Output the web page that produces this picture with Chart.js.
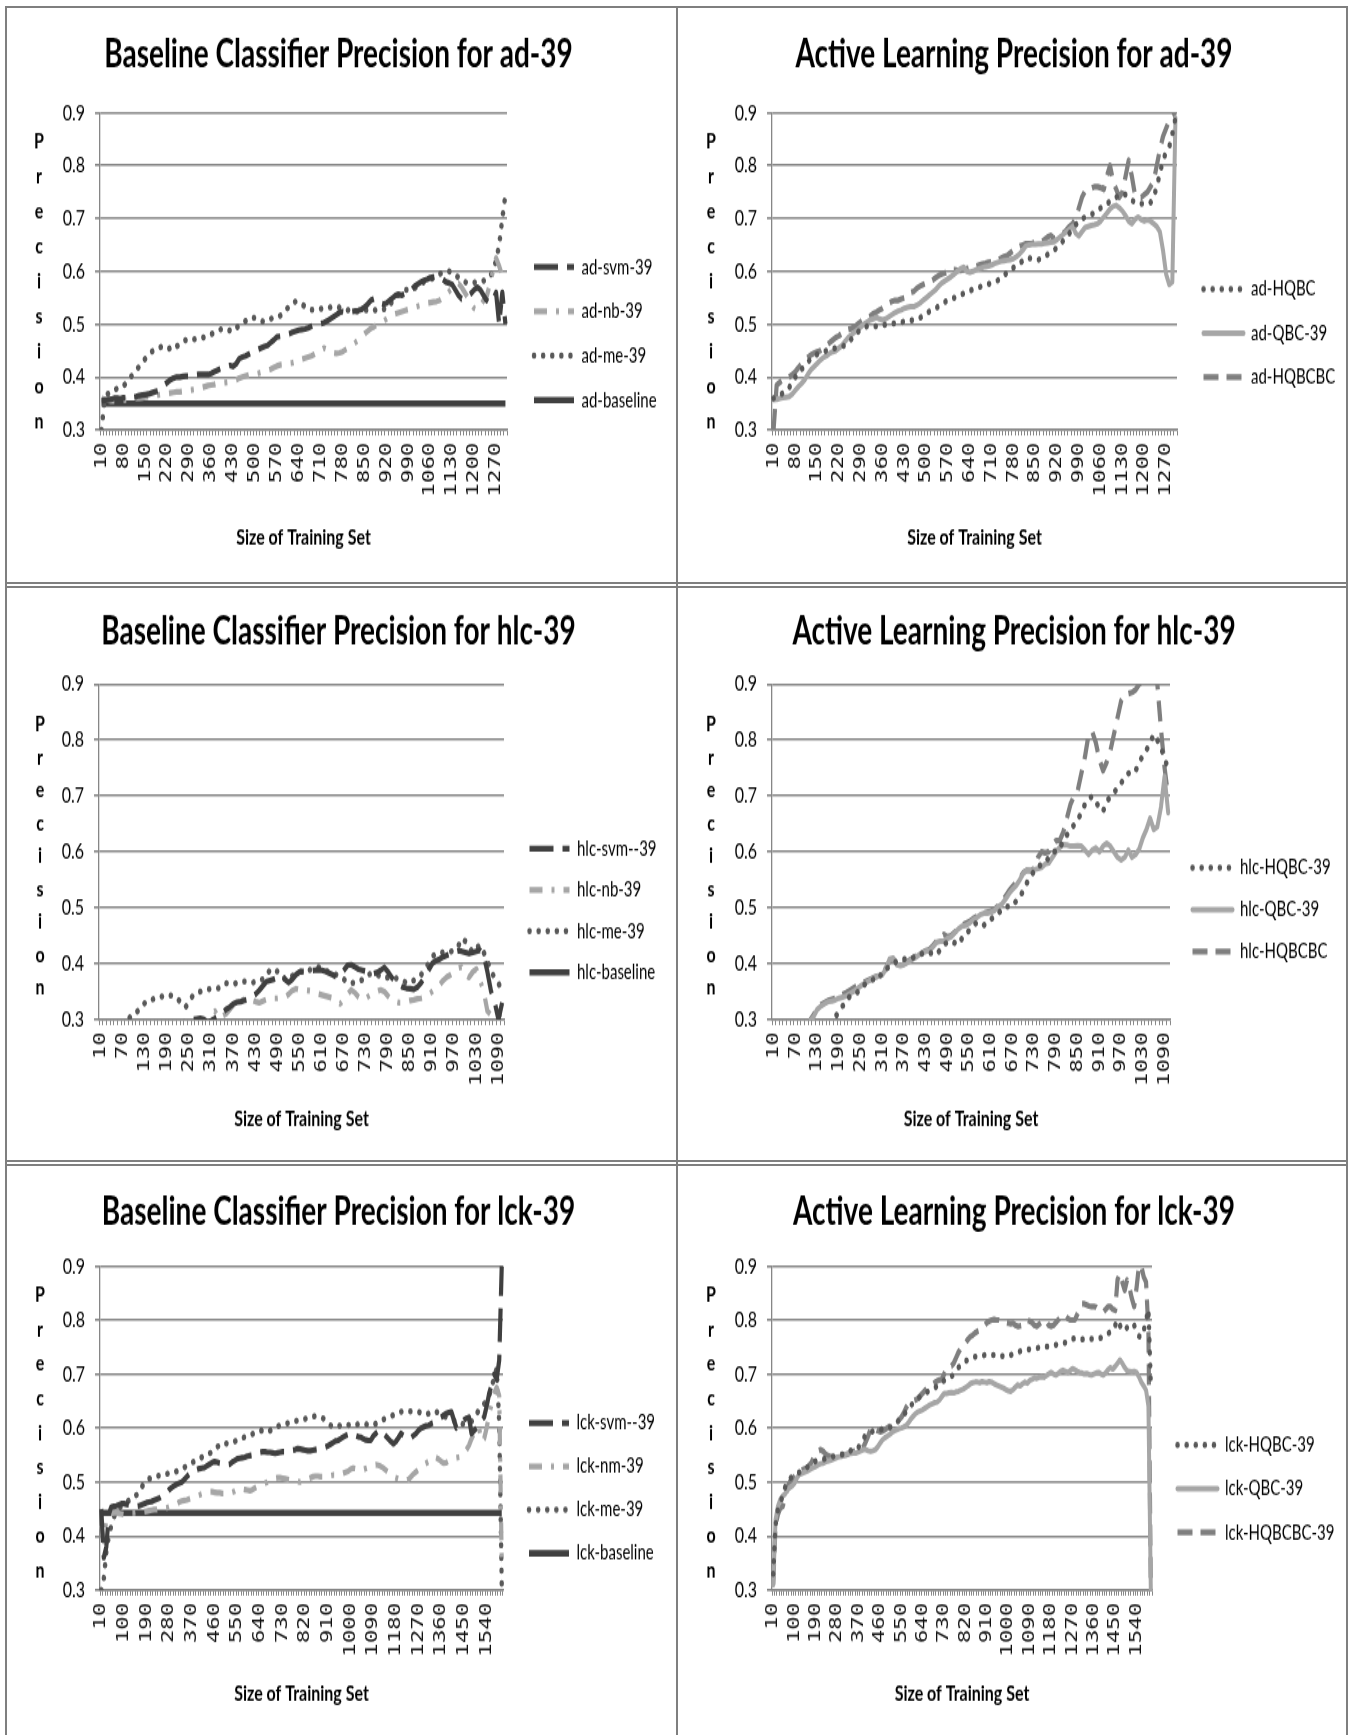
<!DOCTYPE html>
<html>
<head>
<meta charset="utf-8">
<title>Baseline vs Active Learning Precision</title>
<script src="https://cdn.jsdelivr.net/npm/chart.js@4.4.0/dist/chart.umd.min.js"></script>
<style>
    html, body { margin: 0; padding: 0; background: #fff; }
    #page { position: relative; width: 1351px; height: 1735px; overflow: hidden; background: #fff; }
    /* the source image is stretched vertically, so every panel is drawn flat and scaled */
    .cell { position: absolute; transform-origin: 0 0; transform: scaleY(1.4); }
    .cell canvas { display: block; }
    .rule { position: absolute; background: #7f7f7f; z-index: 2; }
</style>
</head>
<body>
<div id="page">
    <div class="cell" style="left:0;top:7px"><canvas id="adBase" width="677" height="411"></canvas></div>
    <div class="cell" style="left:677px;top:7px"><canvas id="adActive" width="674" height="411"></canvas></div>
    <div class="cell" style="left:0;top:587px"><canvas id="hlcBase" width="677" height="410"></canvas></div>
    <div class="cell" style="left:677px;top:587px"><canvas id="hlcActive" width="674" height="410"></canvas></div>
    <div class="cell" style="left:0;top:1166px"><canvas id="lckBase" width="677" height="407"></canvas></div>
    <div class="cell" style="left:677px;top:1166px"><canvas id="lckActive" width="674" height="407"></canvas></div>

    <div class="rule" style="left:5px;top:6px;width:1343px;height:2px"></div>
    <div class="rule" style="left:5px;top:582px;width:1343px;height:2px"></div>
    <div class="rule" style="left:5px;top:586px;width:1343px;height:2px"></div>
    <div class="rule" style="left:5px;top:1160px;width:1343px;height:2px"></div>
    <div class="rule" style="left:5px;top:1164px;width:1343px;height:2px"></div>
    <div class="rule" style="left:5px;top:6px;width:2px;height:1729px"></div>
    <div class="rule" style="left:676px;top:6px;width:2px;height:1729px"></div>
    <div class="rule" style="left:1346px;top:6px;width:2px;height:1729px"></div>
</div>
<script>
// training set sizes (categories), 10 apart
const adSizes = Array.from({ length: 130 }, (_, i) => 10 + i * 10);
const hlcSizes = Array.from({ length: 110 }, (_, i) => 10 + i * 10);
const lckSizes = Array.from({ length: 160 }, (_, i) => 10 + i * 10);

// only every n-th size is labelled on the x axis
const adLabelEvery = 7;
const hlcLabelEvery = 6;
const lckLabelEvery = 9;

const yTicks = [0.3, 0.4, 0.5, 0.6, 0.7, 0.8, 0.9];

// ---- ad-39 ----
const adSvm39 = [
    0.355,0.356,0.357,0.358,0.36,0.36,0.359,0.361,0.36,0.362,
    0.362,0.363,0.365,0.366,0.367,0.368,0.37,0.372,0.374,0.378,
    0.385,0.39,0.395,0.398,0.40,0.40,0.401,0.402,0.402,0.403,
    0.404,0.405,0.405,0.405,0.405,0.407,0.41,0.413,0.416,0.418,
    0.42,0.422,0.42,0.425,0.435,0.438,0.44,0.443,0.447,0.45,
    0.452,0.455,0.458,0.46,0.465,0.47,0.476,0.477,0.478,0.48,
    0.482,0.485,0.487,0.489,0.49,0.491,0.493,0.496,0.499,0.50,
    0.501,0.503,0.506,0.51,0.514,0.518,0.522,0.524,0.523,0.523,
    0.524,0.525,0.526,0.528,0.532,0.538,0.545,0.548,0.545,0.54,
    0.538,0.54,0.545,0.55,0.555,0.556,0.555,0.558,0.56,0.565,
    0.572,0.576,0.58,0.583,0.585,0.588,0.589,0.59,0.588,0.585,
    0.58,0.578,0.575,0.565,0.555,0.548,0.55,0.553,0.558,0.565,
    0.57,0.565,0.555,0.545,0.54,0.545,0.56,0.50,0.56,0.50
];
const adNb39 = [
    0.36,0.358,0.356,0.355,0.355,0.355,0.356,0.357,0.357,0.358,
    0.358,0.36,0.36,0.361,0.362,0.363,0.364,0.365,0.366,0.367,
    0.368,0.369,0.37,0.371,0.372,0.372,0.373,0.374,0.375,0.376,
    0.377,0.378,0.38,0.382,0.384,0.385,0.386,0.388,0.388,0.389,
    0.39,0.391,0.393,0.395,0.398,0.40,0.402,0.404,0.404,0.405,
    0.407,0.409,0.411,0.413,0.415,0.418,0.421,0.423,0.424,0.425,
    0.426,0.427,0.429,0.431,0.434,0.436,0.438,0.44,0.443,0.447,
    0.451,0.455,0.452,0.449,0.446,0.445,0.446,0.448,0.452,0.456,
    0.46,0.465,0.47,0.476,0.482,0.487,0.492,0.495,0.499,0.502,
    0.506,0.51,0.515,0.518,0.52,0.522,0.524,0.526,0.528,0.53,
    0.532,0.534,0.536,0.538,0.54,0.541,0.542,0.543,0.545,0.55,
    0.556,0.562,0.568,0.574,0.577,0.57,0.56,0.55,0.538,0.53,
    0.527,0.535,0.545,0.552,0.575,0.6,0.625,0.61,0.59,0.58
];
const adMe39 = [
    0.30,0.36,0.368,0.372,0.376,0.378,0.381,0.383,0.39,0.398,
    0.405,0.412,0.42,0.428,0.435,0.442,0.448,0.452,0.455,0.457,
    0.455,0.452,0.455,0.452,0.458,0.463,0.468,0.47,0.469,0.471,
    0.472,0.473,0.474,0.476,0.478,0.481,0.484,0.487,0.49,0.492,
    0.49,0.488,0.486,0.493,0.497,0.502,0.506,0.51,0.513,0.512,
    0.508,0.506,0.505,0.507,0.51,0.513,0.514,0.516,0.52,0.527,
    0.535,0.54,0.543,0.542,0.538,0.533,0.529,0.527,0.527,0.528,
    0.529,0.53,0.531,0.532,0.533,0.533,0.532,0.53,0.528,0.526,
    0.525,0.524,0.524,0.525,0.526,0.527,0.527,0.526,0.528,0.53,
    0.529,0.528,0.535,0.545,0.552,0.558,0.562,0.565,0.565,0.566,
    0.568,0.572,0.576,0.58,0.582,0.584,0.588,0.592,0.595,0.598,
    0.60,0.60,0.598,0.594,0.588,0.584,0.58,0.578,0.578,0.579,
    0.58,0.581,0.582,0.584,0.59,0.60,0.62,0.65,0.70,0.745
];
const adBaselineValue = 0.35;
const adBaseline = adSizes.map(() => adBaselineValue);

const adHqbc = [
    0.36,0.362,0.365,0.37,0.375,0.38,0.39,0.40,0.41,0.415,
    0.42,0.428,0.435,0.44,0.443,0.445,0.448,0.45,0.452,0.454,
    0.455,0.456,0.458,0.46,0.465,0.472,0.478,0.485,0.49,0.494,
    0.496,0.497,0.497,0.496,0.497,0.498,0.499,0.50,0.501,0.502,
    0.503,0.504,0.505,0.506,0.507,0.508,0.51,0.512,0.516,0.52,
    0.524,0.527,0.53,0.534,0.538,0.542,0.546,0.548,0.55,0.552,
    0.555,0.558,0.56,0.563,0.566,0.568,0.57,0.572,0.574,0.576,
    0.578,0.58,0.583,0.587,0.592,0.598,0.603,0.607,0.61,0.615,
    0.62,0.625,0.625,0.624,0.622,0.622,0.624,0.628,0.632,0.635,
    0.64,0.645,0.65,0.658,0.665,0.672,0.68,0.688,0.695,0.70,
    0.702,0.705,0.708,0.71,0.715,0.72,0.725,0.728,0.732,0.736,
    0.74,0.745,0.747,0.745,0.74,0.735,0.73,0.728,0.728,0.728,
    0.728,0.73,0.74,0.76,0.785,0.81,0.825,0.835,0.86,0.89
];
const adQbc39 = [
    0.357,0.358,0.36,0.361,0.362,0.363,0.368,0.375,0.382,0.388,
    0.395,0.405,0.414,0.42,0.426,0.432,0.437,0.44,0.445,0.448,
    0.45,0.455,0.46,0.468,0.475,0.48,0.485,0.49,0.495,0.50,
    0.504,0.508,0.51,0.513,0.51,0.508,0.51,0.514,0.518,0.522,
    0.525,0.527,0.53,0.532,0.533,0.533,0.536,0.54,0.545,0.55,
    0.555,0.56,0.565,0.572,0.578,0.582,0.586,0.59,0.595,0.60,
    0.605,0.608,0.60,0.598,0.60,0.603,0.605,0.607,0.609,0.61,
    0.612,0.615,0.617,0.619,0.62,0.621,0.622,0.624,0.628,0.633,
    0.64,0.648,0.65,0.651,0.651,0.652,0.652,0.653,0.654,0.655,
    0.656,0.66,0.665,0.67,0.675,0.68,0.685,0.672,0.667,0.675,
    0.683,0.685,0.687,0.688,0.69,0.695,0.703,0.71,0.718,0.723,
    0.725,0.72,0.714,0.705,0.695,0.69,0.698,0.703,0.698,0.695,
    0.697,0.695,0.69,0.685,0.675,0.64,0.595,0.575,0.58,0.89
];
const adHqbcbc = [
    0.30,0.385,0.39,0.395,0.398,0.40,0.405,0.41,0.418,0.425,
    0.432,0.437,0.442,0.445,0.448,0.45,0.455,0.46,0.465,0.47,
    0.475,0.478,0.483,0.488,0.49,0.492,0.495,0.50,0.505,0.51,
    0.512,0.515,0.52,0.523,0.527,0.53,0.535,0.54,0.543,0.545,
    0.545,0.548,0.55,0.555,0.56,0.562,0.568,0.572,0.575,0.578,
    0.58,0.583,0.588,0.592,0.595,0.597,0.60,0.603,0.603,0.602,
    0.602,0.603,0.605,0.607,0.609,0.61,0.612,0.614,0.615,0.617,
    0.618,0.62,0.622,0.625,0.628,0.63,0.635,0.64,0.645,0.648,
    0.65,0.652,0.652,0.653,0.655,0.655,0.656,0.66,0.665,0.668,
    0.662,0.665,0.668,0.672,0.678,0.685,0.69,0.70,0.72,0.74,
    0.752,0.755,0.757,0.76,0.76,0.758,0.755,0.78,0.80,0.77,
    0.755,0.74,0.75,0.78,0.81,0.78,0.745,0.74,0.74,0.745,
    0.75,0.76,0.77,0.80,0.83,0.855,0.87,0.885,0.895,0.90
];

// ---- hlc-39 ----
const hlcSvm39 = [
    0.22,0.225,0.23,0.235,0.24,0.245,0.25,0.255,0.26,0.262,
    0.265,0.268,0.27,0.272,0.275,0.278,0.28,0.282,0.285,0.287,
    0.289,0.291,0.293,0.296,0.298,0.30,0.301,0.302,0.30,0.295,
    0.298,0.302,0.306,0.312,0.318,0.322,0.328,0.331,0.332,0.334,
    0.336,0.34,0.345,0.352,0.36,0.368,0.37,0.372,0.375,0.378,
    0.372,0.366,0.372,0.38,0.385,0.386,0.386,0.387,0.388,0.389,
    0.388,0.386,0.383,0.38,0.376,0.38,0.388,0.397,0.398,0.394,
    0.39,0.388,0.386,0.384,0.382,0.384,0.388,0.393,0.385,0.375,
    0.368,0.362,0.358,0.356,0.355,0.354,0.358,0.366,0.376,0.388,
    0.40,0.405,0.408,0.412,0.415,0.418,0.421,0.423,0.422,0.42,
    0.418,0.42,0.422,0.424,0.415,0.385,0.35,0.33,0.30,0.33
];
const hlcNb39 = [
    0.2,0.205,0.21,0.215,0.22,0.225,0.23,0.235,0.24,0.245,
    0.25,0.253,0.256,0.259,0.262,0.265,0.268,0.271,0.274,0.277,
    0.28,0.282,0.284,0.286,0.288,0.29,0.292,0.294,0.296,0.298,
    0.31,0.315,0.302,0.306,0.31,0.318,0.326,0.33,0.333,0.336,
    0.338,0.335,0.332,0.33,0.333,0.336,0.338,0.338,0.338,0.339,
    0.34,0.345,0.352,0.355,0.353,0.353,0.352,0.351,0.348,0.346,
    0.344,0.342,0.34,0.338,0.333,0.328,0.336,0.345,0.353,0.348,
    0.34,0.335,0.338,0.343,0.347,0.35,0.353,0.35,0.342,0.335,
    0.332,0.33,0.33,0.332,0.334,0.335,0.337,0.338,0.34,0.345,
    0.35,0.356,0.362,0.37,0.376,0.38,0.385,0.392,0.394,0.38,
    0.375,0.385,0.39,0.37,0.35,0.315,0.308,0.308,0.31,0.31
];
const hlcMe39 = [
    0.25,0.255,0.26,0.265,0.27,0.275,0.285,0.295,0.305,0.308,
    0.315,0.322,0.33,0.335,0.336,0.338,0.34,0.342,0.344,0.343,
    0.342,0.336,0.328,0.322,0.332,0.343,0.347,0.35,0.352,0.354,
    0.355,0.355,0.356,0.36,0.365,0.364,0.363,0.366,0.368,0.368,
    0.368,0.366,0.367,0.368,0.372,0.378,0.39,0.388,0.386,0.383,
    0.372,0.372,0.378,0.382,0.385,0.386,0.388,0.389,0.391,0.394,
    0.39,0.387,0.385,0.383,0.38,0.376,0.372,0.366,0.365,0.366,
    0.368,0.371,0.378,0.381,0.382,0.38,0.377,0.374,0.375,0.376,
    0.374,0.372,0.37,0.365,0.367,0.37,0.375,0.38,0.39,0.40,
    0.412,0.418,0.419,0.42,0.42,0.421,0.425,0.43,0.445,0.44,
    0.43,0.42,0.428,0.433,0.42,0.405,0.385,0.375,0.365,0.35
];
const hlcBaselineValue = 0.28;
const hlcBaseline = hlcSizes.map(() => hlcBaselineValue);

const hlcHqbc39 = [
    0.18,0.19,0.2,0.21,0.22,0.23,0.24,0.245,0.25,0.255,
    0.26,0.265,0.27,0.275,0.28,0.29,0.298,0.304,0.315,0.324,
    0.33,0.342,0.345,0.348,0.355,0.362,0.367,0.371,0.372,0.372,
    0.386,0.39,0.395,0.40,0.404,0.406,0.408,0.407,0.408,0.413,
    0.415,0.418,0.419,0.419,0.418,0.416,0.425,0.434,0.438,0.44,
    0.437,0.434,0.445,0.449,0.46,0.467,0.473,0.47,0.468,0.475,
    0.479,0.485,0.49,0.496,0.502,0.502,0.503,0.512,0.518,0.532,
    0.545,0.556,0.566,0.574,0.577,0.58,0.59,0.598,0.602,0.604,
    0.621,0.63,0.64,0.648,0.657,0.67,0.685,0.695,0.699,0.69,
    0.678,0.672,0.69,0.698,0.705,0.715,0.723,0.733,0.74,0.746,
    0.745,0.76,0.772,0.782,0.795,0.81,0.80,0.785,0.77,0.745
];
const hlcQbc39 = [
    0.2,0.21,0.22,0.23,0.24,0.25,0.26,0.27,0.28,0.29,
    0.297,0.305,0.318,0.324,0.328,0.332,0.333,0.335,0.338,0.34,
    0.342,0.346,0.35,0.355,0.36,0.364,0.368,0.372,0.375,0.378,
    0.38,0.39,0.408,0.41,0.398,0.396,0.398,0.402,0.407,0.41,
    0.415,0.42,0.422,0.423,0.43,0.438,0.44,0.44,0.445,0.448,
    0.455,0.462,0.467,0.468,0.472,0.478,0.482,0.487,0.49,0.49,
    0.492,0.495,0.502,0.506,0.515,0.525,0.533,0.54,0.55,0.562,
    0.567,0.566,0.568,0.57,0.572,0.578,0.58,0.59,0.60,0.608,
    0.613,0.612,0.61,0.61,0.611,0.61,0.603,0.595,0.603,0.607,
    0.60,0.61,0.615,0.61,0.60,0.59,0.585,0.59,0.603,0.59,
    0.595,0.605,0.625,0.64,0.66,0.64,0.645,0.68,0.735,0.67
];
const hlcHqbcbc = [
    0.2,0.21,0.22,0.23,0.24,0.25,0.26,0.27,0.28,0.29,
    0.298,0.308,0.32,0.326,0.33,0.334,0.336,0.338,0.342,0.345,
    0.348,0.352,0.356,0.36,0.365,0.367,0.37,0.373,0.376,0.378,
    0.382,0.392,0.405,0.408,0.40,0.398,0.40,0.404,0.408,0.412,
    0.416,0.42,0.423,0.425,0.432,0.44,0.445,0.452,0.448,0.45,
    0.456,0.463,0.468,0.472,0.475,0.48,0.484,0.488,0.49,0.492,
    0.494,0.497,0.503,0.51,0.52,0.53,0.538,0.545,0.553,0.563,
    0.567,0.566,0.57,0.59,0.60,0.598,0.60,0.612,0.62,0.62,
    0.635,0.66,0.685,0.70,0.71,0.74,0.77,0.81,0.815,0.795,
    0.765,0.745,0.76,0.78,0.81,0.84,0.87,0.88,0.883,0.885,
    0.89,0.90,0.905,0.91,0.91,0.91,0.90,0.82,0.75,0.70
];

// ---- lck-39 ----
const lckSvm39 = [
    0.45,0.36,0.38,0.44,0.454,0.455,0.456,0.458,0.46,0.46,
    0.459,0.458,0.456,0.455,0.455,0.456,0.458,0.46,0.462,0.463,
    0.464,0.466,0.468,0.47,0.474,0.478,0.48,0.486,0.49,0.493,
    0.496,0.498,0.50,0.505,0.51,0.515,0.52,0.521,0.523,0.525,
    0.526,0.527,0.53,0.533,0.536,0.538,0.537,0.535,0.534,0.533,
    0.532,0.533,0.537,0.54,0.543,0.544,0.545,0.546,0.548,0.549,
    0.55,0.552,0.554,0.555,0.556,0.556,0.555,0.555,0.554,0.553,
    0.554,0.555,0.556,0.556,0.557,0.558,0.559,0.56,0.562,0.561,
    0.56,0.559,0.558,0.558,0.559,0.56,0.561,0.563,0.564,0.565,
    0.567,0.57,0.573,0.576,0.577,0.58,0.583,0.586,0.588,0.59,
    0.588,0.586,0.584,0.583,0.58,0.578,0.577,0.577,0.585,0.59,
    0.594,0.596,0.59,0.585,0.58,0.575,0.571,0.575,0.582,0.59,
    0.586,0.582,0.58,0.582,0.586,0.59,0.596,0.60,0.602,0.604,
    0.605,0.608,0.61,0.613,0.617,0.62,0.624,0.627,0.629,0.63,
    0.615,0.60,0.605,0.61,0.615,0.618,0.62,0.59,0.595,0.60,
    0.608,0.615,0.62,0.64,0.664,0.68,0.70,0.69,0.726,0.90
];
const lckNm39 = [
    0.42,0.39,0.43,0.44,0.442,0.443,0.443,0.442,0.441,0.44,
    0.441,0.442,0.443,0.443,0.444,0.444,0.445,0.445,0.446,0.447,
    0.448,0.449,0.449,0.45,0.45,0.451,0.452,0.454,0.456,0.458,
    0.46,0.463,0.465,0.466,0.467,0.469,0.471,0.473,0.474,0.476,
    0.478,0.48,0.481,0.482,0.482,0.481,0.48,0.48,0.479,0.479,
    0.479,0.48,0.481,0.483,0.486,0.488,0.487,0.486,0.485,0.484,
    0.486,0.489,0.492,0.494,0.496,0.498,0.50,0.503,0.505,0.507,
    0.508,0.508,0.507,0.506,0.505,0.504,0.503,0.502,0.501,0.50,
    0.502,0.504,0.506,0.508,0.51,0.511,0.511,0.51,0.51,0.511,
    0.512,0.512,0.513,0.513,0.513,0.514,0.516,0.518,0.52,0.524,
    0.526,0.525,0.523,0.522,0.523,0.525,0.527,0.529,0.531,0.532,
    0.531,0.529,0.526,0.522,0.518,0.514,0.51,0.508,0.506,0.505,
    0.504,0.503,0.505,0.51,0.515,0.519,0.523,0.528,0.532,0.535,
    0.538,0.542,0.547,0.545,0.542,0.538,0.535,0.536,0.539,0.541,
    0.544,0.545,0.546,0.547,0.553,0.56,0.568,0.58,0.59,0.60,
    0.60,0.575,0.58,0.60,0.625,0.645,0.665,0.675,0.66,0.35
];
const lckMe39 = [
    0.30,0.32,0.37,0.40,0.42,0.435,0.445,0.452,0.455,0.458,
    0.462,0.466,0.47,0.473,0.476,0.48,0.49,0.498,0.503,0.506,
    0.508,0.51,0.511,0.512,0.513,0.514,0.515,0.516,0.516,0.518,
    0.52,0.522,0.525,0.527,0.53,0.533,0.536,0.538,0.54,0.543,
    0.546,0.548,0.55,0.553,0.556,0.56,0.565,0.568,0.572,0.572,
    0.571,0.572,0.573,0.575,0.578,0.58,0.582,0.583,0.585,0.587,
    0.589,0.591,0.592,0.594,0.596,0.594,0.593,0.595,0.598,0.60,
    0.603,0.605,0.607,0.608,0.609,0.611,0.612,0.613,0.614,0.615,
    0.616,0.617,0.618,0.62,0.621,0.622,0.621,0.62,0.618,0.615,
    0.61,0.605,0.603,0.602,0.603,0.605,0.606,0.607,0.606,0.605,
    0.604,0.606,0.607,0.608,0.608,0.607,0.606,0.605,0.606,0.608,
    0.61,0.613,0.616,0.618,0.62,0.622,0.624,0.626,0.628,0.63,
    0.631,0.631,0.631,0.631,0.631,0.63,0.63,0.628,0.626,0.625,
    0.627,0.63,0.631,0.63,0.628,0.625,0.622,0.62,0.618,0.616,
    0.614,0.612,0.61,0.608,0.607,0.608,0.61,0.612,0.618,0.625,
    0.635,0.64,0.645,0.648,0.66,0.675,0.695,0.71,0.61,0.31
];
const lckBaselineValue = 0.443;
const lckBaseline = lckSizes.map(() => lckBaselineValue);

const lckHqbc39 = [
    0.33,0.42,0.45,0.46,0.475,0.49,0.50,0.506,0.51,0.513,
    0.516,0.518,0.52,0.522,0.526,0.53,0.534,0.537,0.539,0.54,
    0.541,0.542,0.543,0.545,0.546,0.547,0.548,0.549,0.55,0.551,
    0.552,0.553,0.555,0.56,0.565,0.566,0.565,0.572,0.58,0.588,
    0.59,0.592,0.594,0.595,0.596,0.597,0.598,0.60,0.60,0.601,
    0.602,0.606,0.61,0.615,0.62,0.625,0.63,0.636,0.642,0.646,
    0.65,0.655,0.658,0.661,0.664,0.667,0.67,0.673,0.675,0.677,
    0.68,0.684,0.688,0.691,0.693,0.695,0.70,0.706,0.712,0.716,
    0.72,0.724,0.726,0.728,0.73,0.732,0.733,0.734,0.734,0.735,
    0.735,0.735,0.735,0.735,0.734,0.734,0.733,0.733,0.732,0.733,
    0.735,0.737,0.739,0.741,0.742,0.743,0.744,0.745,0.746,0.746,
    0.747,0.748,0.749,0.75,0.751,0.751,0.751,0.752,0.753,0.754,
    0.755,0.756,0.757,0.758,0.76,0.762,0.765,0.766,0.765,0.764,
    0.764,0.765,0.766,0.766,0.765,0.765,0.765,0.766,0.767,0.769,
    0.772,0.775,0.778,0.78,0.79,0.80,0.79,0.78,0.782,0.786,
    0.79,0.794,0.79,0.78,0.77,0.768,0.78,0.80,0.82,0.68
];
const lckQbc39 = [
    0.31,0.43,0.455,0.468,0.474,0.478,0.485,0.49,0.493,0.498,
    0.508,0.514,0.516,0.518,0.52,0.522,0.525,0.527,0.529,0.532,
    0.534,0.535,0.537,0.539,0.54,0.542,0.544,0.546,0.547,0.548,
    0.55,0.552,0.553,0.553,0.554,0.554,0.556,0.558,0.56,0.56,
    0.558,0.557,0.558,0.56,0.565,0.572,0.578,0.582,0.585,0.588,
    0.592,0.595,0.597,0.599,0.60,0.602,0.605,0.61,0.617,0.622,
    0.627,0.63,0.632,0.634,0.637,0.64,0.643,0.645,0.647,0.648,
    0.652,0.658,0.664,0.664,0.665,0.666,0.665,0.667,0.668,0.67,
    0.672,0.675,0.678,0.682,0.684,0.685,0.685,0.684,0.686,0.685,
    0.684,0.686,0.685,0.682,0.68,0.678,0.676,0.674,0.671,0.669,
    0.668,0.671,0.676,0.68,0.678,0.682,0.685,0.683,0.688,0.69,
    0.693,0.692,0.694,0.695,0.694,0.697,0.70,0.703,0.70,0.698,
    0.701,0.705,0.707,0.705,0.703,0.706,0.71,0.708,0.705,0.703,
    0.702,0.70,0.701,0.699,0.698,0.70,0.702,0.703,0.70,0.698,
    0.702,0.708,0.712,0.709,0.714,0.72,0.726,0.72,0.712,0.706,
    0.705,0.704,0.705,0.703,0.695,0.685,0.678,0.67,0.64,0.30
];
const lckHqbcbc39 = [
    0.31,0.42,0.44,0.452,0.455,0.47,0.49,0.50,0.505,0.51,
    0.515,0.52,0.522,0.524,0.526,0.53,0.535,0.545,0.553,0.558,
    0.56,0.557,0.552,0.549,0.547,0.547,0.548,0.548,0.549,0.55,
    0.55,0.551,0.553,0.555,0.557,0.558,0.56,0.56,0.565,0.575,
    0.585,0.598,0.602,0.598,0.595,0.593,0.594,0.597,0.60,0.603,
    0.606,0.61,0.613,0.615,0.62,0.628,0.638,0.645,0.648,0.65,
    0.652,0.655,0.66,0.665,0.67,0.675,0.677,0.68,0.684,0.687,
    0.689,0.69,0.70,0.71,0.714,0.715,0.72,0.73,0.74,0.748,
    0.751,0.758,0.764,0.769,0.772,0.776,0.779,0.781,0.785,0.79,
    0.795,0.798,0.80,0.801,0.80,0.80,0.799,0.797,0.795,0.794,
    0.793,0.794,0.79,0.788,0.789,0.79,0.795,0.80,0.798,0.795,
    0.79,0.788,0.792,0.796,0.80,0.798,0.79,0.788,0.79,0.795,
    0.80,0.805,0.81,0.808,0.803,0.80,0.80,0.80,0.81,0.82,
    0.83,0.83,0.828,0.826,0.825,0.825,0.824,0.82,0.818,0.815,
    0.82,0.825,0.825,0.82,0.818,0.875,0.886,0.87,0.855,0.874,
    0.86,0.84,0.825,0.86,0.90,0.90,0.88,0.87,0.78,0.30
];

// line looks, Excel greyscale
const STYLES = {
    svm: { borderColor: '#404040', borderDash: [24, 9], borderWidth: 4.2, borderCapStyle: 'butt' },
    nb: { borderColor: '#a6a6a6', borderDash: [13, 9, 3, 9], borderWidth: 4.2, borderCapStyle: 'butt' },
    me: { borderColor: '#595959', borderDash: [0.1, 9], borderWidth: 4.5, borderCapStyle: 'round' },
    base: { borderColor: '#404040', borderDash: [], borderWidth: 4.6, borderCapStyle: 'butt' },
    hqbc: { borderColor: '#595959', borderDash: [0.1, 9], borderWidth: 4.5, borderCapStyle: 'round' },
    qbc: { borderColor: '#a6a6a6', borderDash: [], borderWidth: 4, borderCapStyle: 'round' },
    hqbcbc: { borderColor: '#7f7f7f', borderDash: [15, 8], borderWidth: 4.2, borderCapStyle: 'butt' },
};

// "Precision" written as a column of letters, like the Excel stacked axis title
const stackedLabel = {
    id: 'stackedLabel',
    afterDraw(chart, args, opts) {
        const ctx = chart.ctx;
        ctx.save();
        ctx.font = 'bold 16px Lato';
        ctx.fillStyle = '#000';
        ctx.textAlign = 'center';
        ctx.textBaseline = 'middle';
        opts.text.split('').forEach((ch, i) => ctx.fillText(ch, opts.x, opts.y + i * opts.gap));
        ctx.restore();
    },
};

// moves the legend block to where Excel put it, and widens its clip box
const legendNudge = {
    id: 'legendNudge',
    afterLayout(chart, args, opts) {
        const lg = chart.legend;
        if (!lg) return;
        const dx = opts.x - (lg.left + opts.pad);
        const dy = opts.y - (lg.top + opts.pad + opts.fs / 2);
        lg.left += dx;
        lg.top += dy;
        lg.right = chart.width;
        lg.bottom = chart.height;
        lg.width = lg.right - lg.left;
        lg.height = lg.bottom - lg.top;
    },
};

// legend samples keep the dataset's own dash pattern
function lineLegendItems(chart) {
    return chart.data.datasets.map((ds, i) => ({
        text: ds.label,
        datasetIndex: i,
        hidden: false,
        pointStyle: 'line',
        fillStyle: ds.borderColor,
        strokeStyle: ds.borderColor,
        fontColor: '#000',
        lineWidth: ds.borderWidth,
        lineDash: ds.borderDash,
        lineCap: ds.borderCapStyle,
        lineJoin: 'round',
    }));
}

const panels = [
    {
        id: 'adBase', title: 'Baseline Classifier Precision for ad-39', sizes: adSizes, every: adLabelEvery,
        series: [['ad-svm-39', adSvm39, 'svm'], ['ad-nb-39', adNb39, 'nb'], ['ad-me-39', adMe39, 'me'], ['ad-baseline', adBaseline, 'base']],
        w: 677, h: 411, titleY: 34.3, top: 75.5, bottom: 302.1, left: 100, right: 507, xTitleY: 379.3,
        legendX: 534, legendY: 185.7, legendGap: 31.7, letterX: 39, letterY: 96.1, letterGap: 25,
    },
    {
        id: 'adActive', title: 'Active Learning Precision for ad-39', sizes: adSizes, every: adLabelEvery,
        series: [['ad-HQBC', adHqbc, 'hqbc'], ['ad-QBC-39', adQbc39, 'qbc'], ['ad-HQBCBC', adHqbcbc, 'hqbcbc']],
        w: 674, h: 411, titleY: 34.3, top: 75.5, bottom: 302.1, left: 95, right: 500, xTitleY: 379.3,
        legendX: 526.5, legendY: 201.4, legendGap: 31.5, letterX: 34, letterY: 96.1, letterGap: 25,
    },
    {
        id: 'hlcBase', title: 'Baseline Classifier Precision for hlc-39', sizes: hlcSizes, every: hlcLabelEvery,
        series: [['hlc-svm--39', hlcSvm39, 'svm'], ['hlc-nb-39', hlcNb39, 'nb'], ['hlc-me-39', hlcMe39, 'me'], ['hlc-baseline', hlcBaseline, 'base']],
        w: 677, h: 410, titleY: 32, top: 69.3, bottom: 308.9, left: 99, right: 504, xTitleY: 379.8,
        legendX: 529.5, legendY: 186.8, legendGap: 29.5, letterX: 40, letterY: 97.9, letterGap: 23.5,
    },
    {
        id: 'hlcActive', title: 'Active Learning Precision for hlc-39', sizes: hlcSizes, every: hlcLabelEvery,
        series: [['hlc-HQBC-39', hlcHqbc39, 'hqbc'], ['hlc-QBC-39', hlcQbc39, 'qbc'], ['hlc-HQBCBC', hlcHqbcbc, 'hqbcbc']],
        w: 674, h: 410, titleY: 32, top: 69.3, bottom: 308.9, left: 95, right: 493, xTitleY: 379.8,
        legendX: 515.5, legendY: 200.4, legendGap: 30, letterX: 34, letterY: 97.9, letterGap: 23.5,
    },
    {
        id: 'lckBase', title: 'Baseline Classifier Precision for lck-39', sizes: lckSizes, every: lckLabelEvery,
        series: [['lck-svm--39', lckSvm39, 'svm'], ['lck-nm-39', lckNm39, 'nb'], ['lck-me-39', lckMe39, 'me'], ['lck-baseline', lckBaseline, 'base']],
        w: 677, h: 407, titleY: 32.6, top: 71.4, bottom: 302.9, left: 100, right: 503, xTitleY: 377.1,
        legendX: 529, legendY: 183.6, legendGap: 31, letterX: 40, letterY: 92.1, letterGap: 24.6,
    },
    {
        id: 'lckActive', title: 'Active Learning Precision for lck-39', sizes: lckSizes, every: lckLabelEvery,
        series: [['lck-HQBC-39', lckHqbc39, 'hqbc'], ['lck-QBC-39', lckQbc39, 'qbc'], ['lck-HQBCBC-39', lckHqbcbc39, 'hqbcbc']],
        w: 674, h: 407, titleY: 32.6, top: 71.4, bottom: 302.9, left: 95, right: 475, xTitleY: 377.1,
        legendX: 500.5, legendY: 199.3, legendGap: 31.2, letterX: 34, letterY: 92.1, letterGap: 24.6,
    },
];

Chart.defaults.font.family = 'Lato';
Chart.defaults.color = '#000';

function buildChart(p) {
    const LEGEND_W = 30;
    const fs = 15;
    const pad = p.legendGap - fs;
    const titleLh = 28 * 1.2;
    const xTitleLh = 16 * 1.2;

    return new Chart(document.getElementById(p.id), {
        type: 'line',
        data: {
            labels: p.sizes,
            datasets: p.series.map(([label, data, kind]) => ({
                label,
                data,
                yAxisID: 'y',
                ...STYLES[kind],
                borderJoinStyle: 'round',
                pointRadius: 0,
                pointHoverRadius: 0,
                fill: false,
                tension: 0,
            })),
        },
        options: {
            responsive: false,
            animation: false,
            devicePixelRatio: 1,
            events: [],
            layout: { padding: 0 },
            scales: {
                x: {
                    type: 'category',
                    offset: true,
                    grid: { display: true, drawOnChartArea: false, drawTicks: true, tickLength: 4, color: '#868686', lineWidth: 1, offset: true },
                    border: { display: true, color: '#868686', width: 1.6 },
                    ticks: {
                        autoSkip: false,
                        minRotation: 90,
                        maxRotation: 90,
                        padding: 5,
                        color: '#111',
                        font: { family: 'DejaVu Sans Mono', size: 16 },
                        callback: (value, index) => (index % p.every === 0 ? String(p.sizes[index]) : ''),
                    },
                    title: {
                        display: true,
                        text: 'Size of Training Set',
                        color: '#000',
                        font: { family: 'Lato', weight: 'bold', size: 16 },
                        padding: { top: 0, bottom: p.h - p.xTitleY - xTitleLh / 2 },
                    },
                    afterFit: (s) => { s.height = p.h - p.bottom; },
                },
                y: {
                    type: 'linear',
                    position: 'left',
                    min: 0.3,
                    max: 0.9,
                    afterBuildTicks: (s) => { s.ticks = yTicks.map((v) => ({ value: v })); },
                    grid: { color: '#868686', lineWidth: 1.6, tickLength: 5, drawTicks: true },
                    border: { display: true, color: '#868686', width: 1.3 },
                    ticks: { padding: 10, color: '#000', font: { family: 'Lato', size: 16 }, callback: (v) => Number(v).toFixed(1) },
                    afterFit: (s) => { s.width = p.left; },
                },
                // empty spacer so the plot ends where the legend column starts
                pad: {
                    type: 'linear',
                    position: 'right',
                    display: true,
                    grid: { display: false },
                    border: { display: false },
                    ticks: { display: false },
                    afterFit: (s) => { s.width = p.w - p.right - LEGEND_W; },
                },
            },
            plugins: {
                title: {
                    display: true,
                    text: p.title,
                    color: '#000',
                    font: { family: 'Lato', weight: 'bold', size: 28, lineHeight: 1.2 },
                    padding: { top: p.titleY - titleLh / 2, bottom: p.top - p.titleY - titleLh / 2 },
                },
                legend: {
                    position: 'right',
                    align: 'start',
                    maxWidth: LEGEND_W,
                    labels: {
                        usePointStyle: true,
                        pointStyle: 'line',
                        pointStyleWidth: 40,
                        padding: pad,
                        color: '#000',
                        font: { family: 'Lato', size: fs },
                        generateLabels: lineLegendItems,
                    },
                },
                tooltip: { enabled: false },
                stackedLabel: { text: 'Precision', x: p.letterX, y: p.letterY, gap: p.letterGap },
                legendNudge: { x: p.legendX, y: p.legendY, pad, fs },
            },
        },
        plugins: [stackedLabel, legendNudge],
    });
}

panels.forEach(buildChart);
</script>
</body>
</html>
